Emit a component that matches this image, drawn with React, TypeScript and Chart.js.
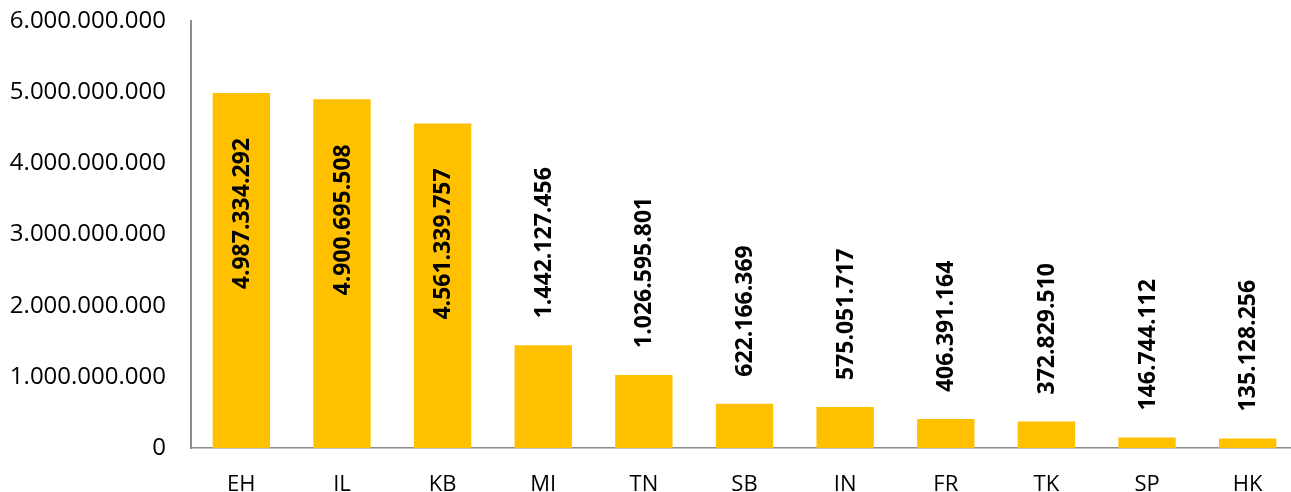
import React, { useEffect, useRef } from "react";
import { Chart, registerables } from "chart.js";

Chart.register(...registerables);

const categories = ["EH", "IL", "KB", "MI", "TN", "SB", "IN", "FR", "TK", "SP", "HK"];
const values = [
  4987334292, 4900695508, 4561339757, 1442127456, 1026595801, 622166369,
  575051717, 406391164, 372829510, 146744112, 135128256,
];
const yMax = 6000000000;
const yStep = 1000000000;

const fmt = (v: number) => String(Math.round(v)).replace(/\B(?=(\d{3})+(?!\d))/g, ".");

const FONT = "'Open Sans', 'Liberation Sans', sans-serif";

const labelPlugin = {
  id: "barLabels",
  afterDatasetsDraw(chart: any) {
    const ctx = chart.ctx;
    const meta = chart.getDatasetMeta(0);
    ctx.save();
    ctx.font = `bold 23px ${FONT}`;
    ctx.fillStyle = "#000000";
    ctx.textBaseline = "middle";
    meta.data.forEach((bar: any, i: number) => {
      const v = values[i];
      const inside = v > 3000000000;
      ctx.save();
      if (inside) {
        ctx.translate(bar.x + 1, bar.y + 45);
        ctx.rotate(-Math.PI / 2);
        ctx.textAlign = "right";
      } else {
        ctx.translate(bar.x + 1, bar.y - 27);
        ctx.rotate(-Math.PI / 2);
        ctx.textAlign = "left";
      }
      ctx.fillText(fmt(v), 0, 0);
      ctx.restore();
    });
    ctx.restore();
  },
};

export default function App() {
  const ref = useRef<HTMLCanvasElement | null>(null);

  useEffect(() => {
    if (!ref.current) return;
    const chart = new Chart(ref.current, {
      type: "bar",
      data: {
        labels: categories,
        datasets: [
          {
            data: values,
            backgroundColor: "#FFC000",
            borderWidth: 0,
            barPercentage: 0.57,
            categoryPercentage: 1,
          },
        ],
      },
      options: {
        responsive: false,
        animation: false,
        devicePixelRatio: 1,
        layout: { padding: { top: 21, right: 2, left: 0, bottom: 0 } },
        plugins: { legend: { display: false }, tooltip: { enabled: false } },
        scales: {
          x: {
            grid: { display: false, drawTicks: false },
            border: { display: true, color: "#8c8c8c", width: 1.5 },
            ticks: {
              color: "#000000",
              font: { family: FONT, size: 22 },
              padding: 24,
              maxRotation: 0,
              autoSkip: false,
            },
            afterFit: (s: any) => {
              s.height = 44;
            },
          },
          y: {
            min: 0,
            max: yMax,
            grid: { display: false, drawTicks: false },
            border: { display: true, color: "#8c8c8c", width: 2 },
            ticks: {
              stepSize: yStep,
              color: "#000000",
              font: { family: FONT, size: 24 },
              padding: 25,
              callback: (v: any) => fmt(Number(v)),
            },
            afterFit: (s: any) => {
              s.width = 191;
              s.paddingTop = 0;
              s.paddingBottom = 0;
            },
          },
        },
      },
      plugins: [labelPlugin],
    });
    return () => chart.destroy();
  }, []);

  return (
    <div
      style={{
        position: "absolute",
        left: 0,
        top: 0,
        width: 1291,
        height: 492,
        overflow: "hidden",
        background: "#ffffff",
      }}
    >
      <canvas ref={ref} width={1300} height={492} style={{ display: "block" }} />
    </div>
  );
}
